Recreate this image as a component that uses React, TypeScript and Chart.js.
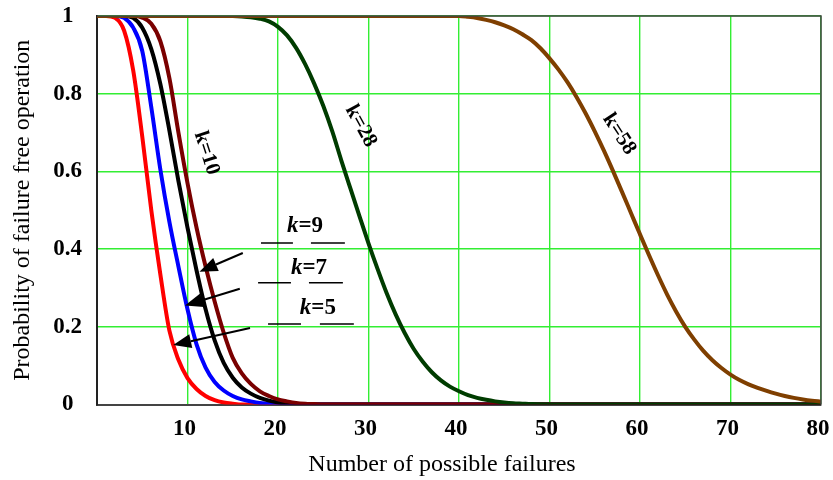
import React, { useEffect, useRef } from 'react';
import { Chart, registerables } from 'chart.js';

Chart.register(...registerables);

// ---- data (x = number of possible failures, y = probability) ----
const k5: [number, number][] = [
  [0, 1], [1, 1], [2, 0.995], [3, 0.962], [4, 0.86], [5, 0.69], [6, 0.5], [7, 0.335], [8, 0.19],
  [9, 0.115], [10, 0.068], [11, 0.04], [12, 0.022], [13, 0.011], [14, 0.005], [15, 0.002], [16, 0], [80, 0],
];
const k7: [number, number][] = [
  [0, 1], [2, 1], [3, 0.995], [4, 0.97], [5, 0.91], [6, 0.765], [7, 0.605], [8, 0.47], [9, 0.355],
  [10, 0.245], [11, 0.155], [12, 0.095], [13, 0.058], [14, 0.036], [15, 0.022], [16, 0.013],
  [17, 0.008], [18, 0.004], [19, 0.002], [20, 0], [80, 0],
];
const k9: [number, number][] = [
  [0, 1], [3, 1], [4, 0.995], [5, 0.97], [6, 0.915], [7, 0.825], [8, 0.705], [9, 0.575], [10, 0.455],
  [11, 0.345], [12, 0.245], [13, 0.165], [14, 0.107], [15, 0.069], [16, 0.044], [17, 0.028],
  [18, 0.017], [19, 0.01], [20, 0.005], [21, 0.002], [22, 0], [80, 0],
];
const k10: [number, number][] = [
  [0, 1], [4, 1], [5, 0.996], [6, 0.98], [7, 0.935], [8, 0.84], [9, 0.7], [10, 0.57], [11, 0.455],
  [12, 0.355], [13, 0.265], [14, 0.185], [15, 0.12], [16, 0.08], [17, 0.053], [18, 0.034],
  [19, 0.022], [20, 0.013], [21, 0.008], [22, 0.004], [23, 0.002], [24, 0.001], [25, 0], [80, 0],
];
const k28: [number, number][] = [
  [0, 1], [15, 1], [16, 0.999], [17, 0.997], [18, 0.993], [19, 0.986], [20, 0.972], [21, 0.95],
  [22, 0.918], [23, 0.876], [24, 0.826], [25, 0.769], [26, 0.703], [27, 0.628], [28, 0.556],
  [29, 0.485], [30, 0.415], [31, 0.349], [32, 0.287], [33, 0.232], [34, 0.184], [35, 0.143],
  [36, 0.11], [37, 0.083], [38, 0.062], [39, 0.046], [40, 0.034], [41, 0.024], [42, 0.017],
  [43, 0.012], [44, 0.008], [45, 0.005], [46, 0.003], [47, 0.002], [48, 0.001], [50, 0], [80, 0],
];
const k58: [number, number][] = [
  [0, 1], [40, 1], [41, 0.998], [42, 0.995], [43, 0.99], [44, 0.984], [45, 0.976], [46, 0.966],
  [47, 0.953], [48, 0.938], [49, 0.917], [50, 0.891], [51, 0.862], [52, 0.829], [53, 0.791],
  [54, 0.749], [55, 0.703], [56, 0.654], [57, 0.602], [58, 0.548], [59, 0.493], [60, 0.438],
  [61, 0.384], [62, 0.332], [63, 0.283], [64, 0.239], [65, 0.2], [66, 0.167], [67, 0.138],
  [68, 0.114], [69, 0.094], [70, 0.077], [71, 0.063], [72, 0.052], [73, 0.043], [74, 0.035],
  [75, 0.028], [76, 0.022], [77, 0.017], [78, 0.013], [79, 0.01], [80, 0.008],
];

const seriesNames = ['k=5', 'k=7', 'k=9', 'k=10', 'k=28', 'k=58'];
const seriesData = [k5, k7, k9, k10, k28, k58];
const seriesColors = ['#ff0000', '#0000ff', '#000000', '#7a0000', '#003c00', '#7f3f00'];
const drawOrder = [5, 4, 3, 2, 1, 0];

const xTickStep = 10;
const yTickStep = 0.2;
const xTitle = 'Number of possible failures';
const yTitle = 'Probability of failure free operation';

// annotations (in data coordinates)
const rotatedLabels = [
  { text: 'k=10', x: 12.1, y: 0.647, angle: 72 },
  { text: 'k=28', x: 29.15, y: 0.717, angle: 61 },
  { text: 'k=58', x: 57.7, y: 0.696, angle: 57 },
];
const pointerLabels = [
  { value: '9', x: 22.98, y: 0.459, from: [16.11, 0.39], to: [11.32, 0.342], lineY: 0.4157, left: [18.12, 21.65], right: [23.64, 27.39] },
  { value: '7', x: 23.42, y: 0.351, from: [15.78, 0.298], to: [9.72, 0.255], lineY: 0.3135, left: [17.8, 21.43], right: [23.42, 27.17] },
  { value: '5', x: 24.41, y: 0.248, from: [16.91, 0.197], to: [8.42, 0.153], lineY: 0.2072, left: [18.9, 22.54], right: [24.63, 28.38] },
];

const SERIF = "'Liberation Serif', 'Times New Roman', serif";

const annotationPlugin = {
  id: 'annotations',
  afterDatasetsDraw(chart: any) {
    const { ctx, chartArea, scales } = chart;
    const xs = scales.x;
    const ys = scales.y;
    ctx.save();
    // plot box (top & right)
    ctx.strokeStyle = '#444';
    ctx.lineWidth = 1.5;
    ctx.beginPath();
    ctx.moveTo(chartArea.left, chartArea.top);
    ctx.lineTo(chartArea.right, chartArea.top);
    ctx.lineTo(chartArea.right, chartArea.bottom);
    ctx.stroke();

    ctx.fillStyle = '#000';
    ctx.strokeStyle = '#000';
    // rotated labels
    for (const r of rotatedLabels) {
      const px = xs.getPixelForValue(r.x);
      const py = ys.getPixelForValue(r.y);
      ctx.save();
      ctx.translate(px, py);
      ctx.rotate((r.angle * Math.PI) / 180);
      ctx.font = `bold 21px ${SERIF}`;
      ctx.textAlign = 'center';
      ctx.textBaseline = 'middle';
      ctx.fillText(r.text, 0, 0);
      ctx.restore();
    }
    // pointer labels
    for (const p of pointerLabels) {
      const cx = xs.getPixelForValue(p.x);
      const cy = ys.getPixelForValue(p.y);
      ctx.font = `italic bold 23px ${SERIF}`;
      const wk = ctx.measureText('k').width;
      ctx.font = `bold 23px ${SERIF}`;
      const wr = ctx.measureText('=' + p.value).width;
      const start = cx - (wk + wr) / 2;
      ctx.textBaseline = 'middle';
      ctx.textAlign = 'left';
      ctx.font = `italic bold 23px ${SERIF}`;
      ctx.fillText('k', start, cy);
      ctx.font = `bold 23px ${SERIF}`;
      ctx.fillText('=' + p.value, start + wk, cy);

      const ly = ys.getPixelForValue(p.lineY);
      ctx.lineWidth = 1.6;
      ctx.beginPath();
      ctx.moveTo(xs.getPixelForValue(p.left[0]), ly);
      ctx.lineTo(xs.getPixelForValue(p.left[1]), ly);
      ctx.moveTo(xs.getPixelForValue(p.right[0]), ly);
      ctx.lineTo(xs.getPixelForValue(p.right[1]), ly);
      ctx.stroke();

      // arrow
      const x0 = xs.getPixelForValue(p.from[0]);
      const y0 = ys.getPixelForValue(p.from[1]);
      const x1 = xs.getPixelForValue(p.to[0]);
      const y1 = ys.getPixelForValue(p.to[1]);
      const ang = Math.atan2(y1 - y0, x1 - x0);
      const headLen = 18;
      const headHalf = 7;
      const bx = x1 - headLen * Math.cos(ang);
      const by = y1 - headLen * Math.sin(ang);
      ctx.lineWidth = 2;
      ctx.beginPath();
      ctx.moveTo(x0, y0);
      ctx.lineTo(bx, by);
      ctx.stroke();
      ctx.beginPath();
      ctx.moveTo(x1, y1);
      ctx.lineTo(bx + headHalf * Math.sin(ang), by - headHalf * Math.cos(ang));
      ctx.lineTo(bx - headHalf * Math.sin(ang), by + headHalf * Math.cos(ang));
      ctx.closePath();
      ctx.fill();
    }

    // x-axis title (offset left of the plot centre, as in the original)
    ctx.font = `24px ${SERIF}`;
    ctx.textAlign = 'center';
    ctx.textBaseline = 'middle';
    ctx.fillStyle = '#000';
    ctx.fillText(xTitle, chartArea.left + 345, chartArea.bottom + 60);
    ctx.restore();
  },
};

export default function App() {
  const canvasRef = useRef<HTMLCanvasElement | null>(null);

  useEffect(() => {
    document.body.style.margin = '0';
    const canvas = canvasRef.current;
    if (!canvas) return;
    const gridColor = '#33ee33';
    const noTick = 'rgba(0,0,0,0)';
    const chart = new Chart(canvas, {
      type: 'line',
      data: {
        datasets: seriesData.map((d, i) => ({
          label: seriesNames[i],
          data: d.map(([x, y]) => ({ x, y })),
          borderColor: seriesColors[i],
          backgroundColor: seriesColors[i],
          borderWidth: 4,
          pointRadius: 0,
          fill: false,
          cubicInterpolationMode: 'monotone' as const,
          order: drawOrder[i],
        })),
      },
      options: {
        animation: false,
        responsive: false,
        maintainAspectRatio: false,
        layout: { padding: { top: 16, right: 12, left: 0, bottom: 0 } },
        plugins: { legend: { display: false }, tooltip: { enabled: false } },
        scales: {
          x: {
            type: 'linear',
            min: 0,
            max: 80,
            ticks: {
              stepSize: xTickStep,
              autoSkip: false,
              maxRotation: 0,
              padding: 0,
              labelOffset: -3,
              color: '#000',
              font: { family: SERIF, size: 23, weight: 'bold' },
              callback: (v: any) => (v === 0 ? '' : String(v)),
            },
            grid: { color: gridColor, lineWidth: 1.4, drawTicks: true, tickLength: 11, tickColor: noTick },
            border: { color: '#444', width: 2 },
            title: { display: false, text: xTitle },
            afterFit: (s: any) => {
              s.height = 75.5;
            },
          },
          y: {
            type: 'linear',
            min: 0,
            max: 1,
            ticks: {
              stepSize: yTickStep,
              crossAlign: 'center',
              padding: 0,
              color: '#000',
              font: { family: SERIF, size: 23, weight: 'bold' },
              callback: (v: any) => String(Number(Number(v).toFixed(2))),
            },
            grid: { color: gridColor, lineWidth: 1.4, drawTicks: true, tickLength: 15, tickColor: noTick },
            border: { color: '#222', width: 2 },
            title: {
              display: true,
              text: yTitle,
              color: '#000',
              font: { family: SERIF, size: 24, weight: 'normal' },
              padding: { top: 8, bottom: 0 },
            },
            afterFit: (s: any) => {
              s.width = 97;
            },
          },
        },
      } as any,
      plugins: [annotationPlugin],
    });
    return () => chart.destroy();
  }, []);

  return (
    <div style={{ width: 833, height: 480, background: '#fff' }}>
      <canvas ref={canvasRef} width={833} height={480} style={{ display: 'block' }} />
    </div>
  );
}
